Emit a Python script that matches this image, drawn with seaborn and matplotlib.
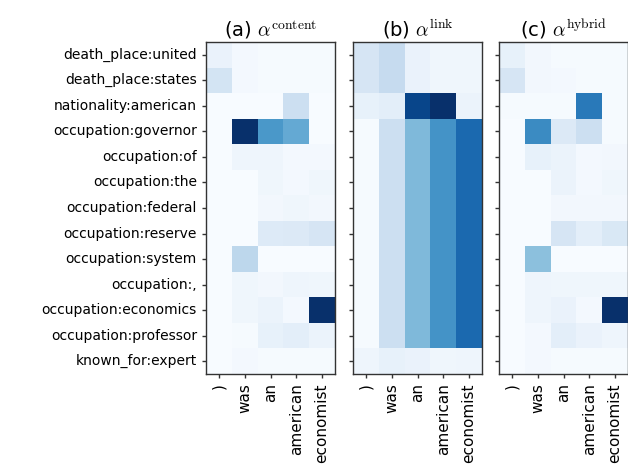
import matplotlib
matplotlib.use("Agg")
import matplotlib.pyplot as plt
import seaborn as sns
import numpy as np
import pandas as pd

rows = ["death_place:united", "death_place:states", "nationality:american",
        "occupation:governor", "occupation:of", "occupation:the",
        "occupation:federal", "occupation:reserve", "occupation:system",
        "occupation:,", "occupation:economics", "occupation:professor",
        "known_for:expert"]
cols = [")", "was", "an", "american", "economist"]

alpha_content = [
    [0.07, 0.02, 0.01, 0.01, 0.01],
    [0.18, 0.02, 0.01, 0.01, 0.01],
    [0.00, 0.00, 0.00, 0.22, 0.00],
    [0.00, 1.00, 0.60, 0.52, 0.00],
    [0.00, 0.05, 0.05, 0.02, 0.02],
    [0.00, 0.00, 0.04, 0.02, 0.04],
    [0.00, 0.00, 0.03, 0.04, 0.03],
    [0.00, 0.00, 0.13, 0.14, 0.17],
    [0.00, 0.28, 0.00, 0.00, 0.00],
    [0.00, 0.04, 0.03, 0.05, 0.04],
    [0.00, 0.04, 0.06, 0.02, 1.00],
    [0.00, 0.01, 0.08, 0.10, 0.06],
    [0.00, 0.02, 0.01, 0.01, 0.01],
]
alpha_link = [
    [0.17, 0.25, 0.07, 0.04, 0.04],
    [0.17, 0.25, 0.07, 0.04, 0.04],
    [0.08, 0.10, 0.92, 1.00, 0.06],
    [0.01, 0.22, 0.45, 0.62, 0.78],
    [0.01, 0.22, 0.45, 0.62, 0.78],
    [0.01, 0.22, 0.45, 0.62, 0.78],
    [0.01, 0.22, 0.45, 0.62, 0.78],
    [0.01, 0.22, 0.45, 0.62, 0.78],
    [0.01, 0.22, 0.45, 0.62, 0.78],
    [0.01, 0.22, 0.45, 0.62, 0.78],
    [0.01, 0.22, 0.45, 0.62, 0.78],
    [0.01, 0.22, 0.45, 0.62, 0.78],
    [0.05, 0.08, 0.07, 0.04, 0.05],
]
alpha_hybrid = [
    [0.08, 0.03, 0.01, 0.01, 0.01],
    [0.17, 0.03, 0.02, 0.01, 0.01],
    [0.01, 0.01, 0.01, 0.72, 0.01],
    [0.00, 0.65, 0.14, 0.22, 0.01],
    [0.00, 0.08, 0.06, 0.02, 0.03],
    [0.00, 0.00, 0.06, 0.02, 0.04],
    [0.00, 0.00, 0.03, 0.03, 0.03],
    [0.00, 0.00, 0.17, 0.10, 0.15],
    [0.00, 0.42, 0.00, 0.00, 0.00],
    [0.00, 0.05, 0.04, 0.04, 0.04],
    [0.00, 0.05, 0.07, 0.02, 1.00],
    [0.00, 0.02, 0.10, 0.07, 0.05],
    [0.00, 0.02, 0.01, 0.01, 0.01],
]

titles = [r"(a) $\alpha^{\mathrm{content}}$",
          r"(b) $\alpha^{\mathrm{link}}$",
          r"(c) $\alpha^{\mathrm{hybrid}}$"]

sns.set_style("ticks")
plt.rcParams["font.family"] = ["DejaVu Sans"]
plt.rcParams["mathtext.fontset"] = "cm"
plt.rcParams["text.color"] = "black"
plt.rcParams["xtick.color"] = "black"
plt.rcParams["ytick.color"] = "black"

fig = plt.figure(figsize=(6.28, 4.68), dpi=100)
lefts = [206, 353, 499]
W, H = 628, 468
for i, (data, title) in enumerate(zip([alpha_content, alpha_link, alpha_hybrid], titles)):
    ax = fig.add_axes([lefts[i] / W, (H - 374) / H, 129 / W, 332 / H])
    df = pd.DataFrame(data, index=rows, columns=cols)
    sns.heatmap(df, ax=ax, cmap="Blues", vmin=0, vmax=1, cbar=False)
    for s in ax.spines.values():
        s.set_visible(True)
        s.set_color("#333333")
        s.set_linewidth(1.0)
    ax.tick_params(axis="both", length=3, width=1, color="#333333",
                   labelcolor="black")
    ax.set_xticklabels(cols, rotation=90, fontsize=11)
    if i == 0:
        ax.set_yticklabels(rows, rotation=0, fontsize=10)
    else:
        ax.set_yticklabels([])
    ax.set_xlabel("")
    ax.set_ylabel("")
    ax.set_title(title, fontsize=14, pad=4, color="black")

plt.savefig("out.png", dpi=100)
plt.close()
